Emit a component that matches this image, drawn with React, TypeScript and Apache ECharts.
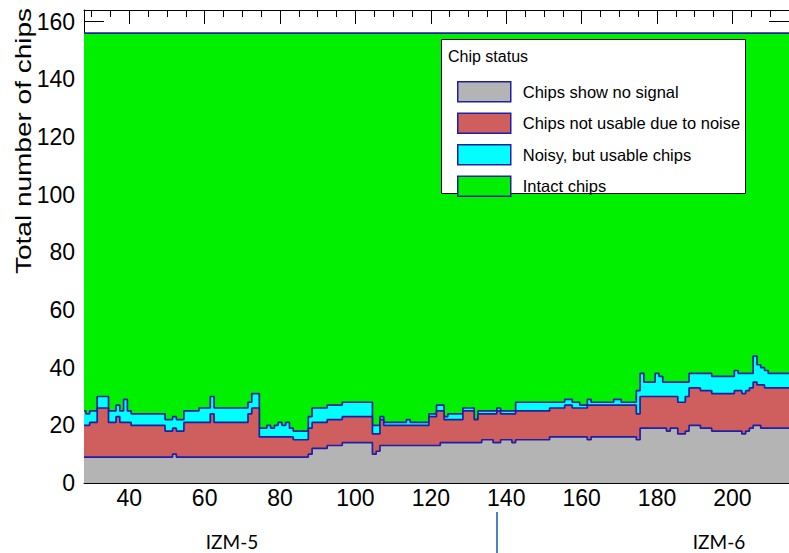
import React, { useEffect, useRef } from "react";
import * as echarts from "echarts";

// ---- axis ranges ----
const X_MIN = 28;
const X_MAX = 215;
const Y_MIN = 0;
const Y_MAX = 164;

// ---- data: runs of [first bin, cumulative stack height] ----
const noSignalTop: [number, number][] = [
  [28, 9], [52, 10], [53, 9], [88, 10], [89, 12], [93, 13], [97, 14], [105, 10], [106, 11], [107, 13],
  [123, 14], [134, 15], [137, 14], [139, 15], [142, 14], [143, 15], [152, 16], [162, 15], [163, 16],
  [175, 15], [176, 19], [183, 18], [184, 19], [186, 17], [188, 18], [189, 20], [192, 19], [195, 18],
  [203, 17], [204, 18], [205, 19], [206, 20], [208, 19],
];

const notUsableTop: [number, number][] = [
  [28, 20], [30, 21], [32, 26], [35, 21], [37, 23], [38, 21], [41, 20], [50, 18], [52, 19], [53, 18],
  [55, 21], [62, 24], [63, 21], [72, 24], [73, 26], [75, 16], [84, 15], [88, 19], [89, 21], [93, 22],
  [97, 23], [105, 17], [107, 22], [108, 20], [120, 23], [122, 25], [124, 22], [129, 25], [132, 22],
  [133, 24], [138, 25], [139, 24], [143, 25], [152, 26], [156, 27], [158, 26], [162, 27], [175, 24],
  [176, 30], [186, 28], [188, 30], [189, 33], [192, 32], [195, 31], [201, 32], [203, 31], [204, 32],
  [205, 33], [206, 35], [207, 34], [209, 33],
];

const noisyTop: [number, number][] = [
  [28, 25], [29, 24], [30, 25], [32, 30], [35, 25], [37, 27], [38, 25], [39, 29], [40, 25], [41, 24],
  [50, 22], [52, 23], [53, 22], [55, 25], [59, 26], [62, 30], [63, 26], [72, 28], [73, 31], [75, 19],
  [77, 20], [78, 19], [79, 20], [80, 21], [81, 20], [82, 21], [83, 19], [84, 18], [88, 23], [89, 26],
  [93, 27], [97, 28], [105, 20], [107, 23], [108, 21], [114, 22], [115, 21], [120, 24], [122, 27],
  [124, 23], [125, 24], [129, 26], [132, 22], [133, 25], [138, 26], [139, 25], [143, 28], [156, 29],
  [158, 28], [160, 27], [162, 29], [163, 28], [169, 29], [171, 28], [175, 32], [176, 38], [177, 35],
  [180, 38], [181, 37], [182, 35], [189, 38], [195, 37], [201, 39], [202, 38], [206, 44], [207, 41],
  [208, 40], [209, 39], [210, 38],
];

const totalChips: [number, number][] = [[28, 156]];

const seriesNames = [
  "Chips show no signal",
  "Chips not usable due to noise",
  "Noisy, but usable chips",
  "Intact chips",
];
const seriesColors = ["#b4b4b4", "#cf5e5f", "#00ffff", "#00f000"];
const seriesRuns = [noSignalTop, notUsableTop, noisyTop, totalChips];

const LINE_COLOR = "#1f1fa3";
const SANS = "'Liberation Sans', Arial, Helvetica, sans-serif";

function toSteps(runs: [number, number][]): [number, number][] {
  const pts: [number, number][] = runs.map(([bin, v]) => [Math.max(bin - 0.5, X_MIN), v]);
  pts.push([X_MAX, runs[runs.length - 1][1]]);
  return pts;
}

export default function App() {
  const ref = useRef<HTMLDivElement>(null);

  useEffect(() => {
    if (!ref.current) return;
    const chart = echarts.init(ref.current, undefined, { renderer: "svg" });

    const tickLine = { color: "#000", width: 1 };
    const xBase = {
      type: "value" as const,
      min: X_MIN,
      max: X_MAX,
      minInterval: 20,
      maxInterval: 20,
      axisLine: { show: true, onZero: false, lineStyle: tickLine },
      axisTick: { show: true, inside: true, length: 14, lineStyle: tickLine },
      minorTick: { show: true, splitNumber: 4, length: 7, lineStyle: tickLine },
      splitLine: { show: false },
      minorSplitLine: { show: false },
    };
    const yBase = {
      type: "value" as const,
      min: Y_MIN,
      max: Y_MAX,
      minInterval: 20,
      maxInterval: 20,
      axisLine: { show: true, onZero: false, lineStyle: tickLine },
      axisTick: { show: true, inside: true, length: 20, lineStyle: tickLine },
      minorTick: { show: true, splitNumber: 4, length: 10, lineStyle: tickLine },
      splitLine: { show: false },
      minorSplitLine: { show: false },
    };

    // draw order: intact (back) ... no signal (front)
    const order = [3, 2, 1, 0];
    const series = order.map((i) => ({
      name: seriesNames[i],
      type: "line" as const,
      step: "end" as const,
      data: toSteps(seriesRuns[i]),
      symbol: "none",
      showSymbol: false,
      silent: true,
      clip: true,
      lineStyle: { color: LINE_COLOR, width: 1.7 },
      itemStyle: { color: seriesColors[i] },
      areaStyle: { color: seriesColors[i], opacity: 1 },
      emphasis: { disabled: true },
      z: 2 + (3 - i),
    }));

    chart.setOption({
      animation: false,
      backgroundColor: "#fff",
      grid: { left: 84, right: -3, top: 10, bottom: 70, containLabel: false },
      xAxis: [
        {
          ...xBase,
          position: "bottom",
          axisLabel: {
            show: true,
            margin: 3,
            fontSize: 23,
            fontFamily: SANS,
            color: "#000",
            showMinLabel: false,
            showMaxLabel: false,
          },
        },
        { ...xBase, position: "top", axisLabel: { show: false } },
      ],
      yAxis: [
        {
          ...yBase,
          position: "left",
          axisLabel: {
            show: true,
            margin: 9,
            fontSize: 23,
            fontFamily: SANS,
            color: "#000",
            showMinLabel: true,
            showMaxLabel: false,
          },
        },
        { ...yBase, position: "right", axisLabel: { show: false } },
      ],
      legend: {
        show: true,
        orient: "vertical",
        left: 452,
        top: 76,
        itemWidth: 53,
        itemHeight: 20,
        itemGap: 10,
        selectedMode: false,
        z: 20,
        textStyle: { fontFamily: SANS, fontSize: 16.5, color: "#000", padding: [0, 0, 0, 7] },
        data: seriesNames.map((name, i) => ({
          name,
          icon: "rect",
          itemStyle: { color: seriesColors[i], borderColor: LINE_COLOR, borderWidth: 1.5 },
        })),
      },
      graphic: [
        {
          type: "rect",
          z: 10,
          shape: { x: 441.5, y: 39.5, width: 304, height: 154 },
          style: { fill: "#fff", stroke: "#000", lineWidth: 1 },
        },
        {
          type: "text",
          z: 11,
          x: 448,
          y: 56,
          style: { text: "Chip status", font: `16px ${SANS}`, fill: "#000", verticalAlign: "middle" },
        },
        {
          type: "text",
          x: 23,
          y: 141,
          rotation: Math.PI / 2,
          scaleY: 0.82,
          style: {
            text: "Total number of chips",
            font: `28px ${SANS}`,
            fill: "#000",
            align: "center",
            verticalAlign: "middle",
          },
        },
        {
          type: "text",
          x: 232,
          y: 541,
          style: { text: "IZM-5", font: "19px Lato, 'Open Sans', sans-serif", fill: "#000", align: "center", verticalAlign: "middle" },
        },
        {
          type: "text",
          x: 719,
          y: 541,
          style: { text: "IZM-6", font: "19px Lato, 'Open Sans', sans-serif", fill: "#000", align: "center", verticalAlign: "middle" },
        },
        {
          type: "line",
          shape: { x1: 497, y1: 512, x2: 497, y2: 553 },
          style: { stroke: "#4f81bd", lineWidth: 2 },
        },
      ],
      series,
    });

    return () => chart.dispose();
  }, []);

  return (
    <div
      ref={ref}
      style={{ position: "absolute", left: 0, top: 0, width: 789, height: 553, background: "#fff" }}
    />
  );
}
